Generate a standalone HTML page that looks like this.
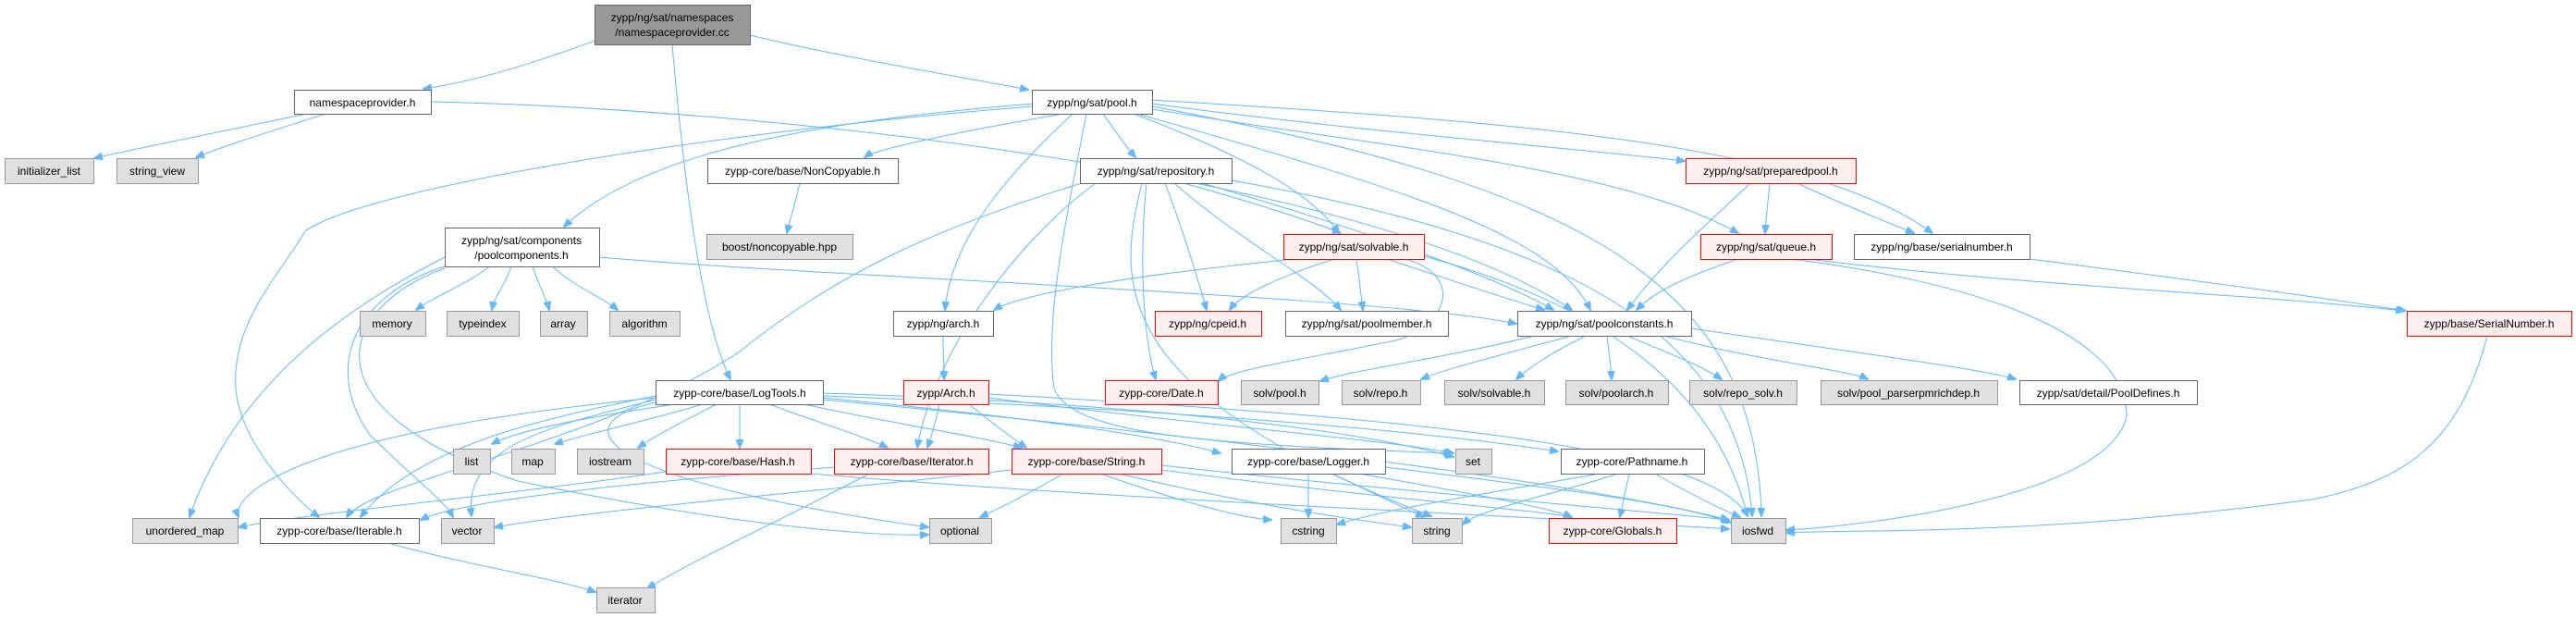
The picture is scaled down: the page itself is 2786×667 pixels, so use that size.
<!DOCTYPE html>
<html><head><meta charset="utf-8"><style>
html,body{margin:0;padding:0;background:#fff;}
svg{display:block;}
text{font-family:"Liberation Sans",Arial,sans-serif;font-size:12px;fill:#000;text-anchor:middle;}
.w{fill:#fff;stroke:#666;stroke-width:1;}
.g{fill:#e0e0e0;stroke:#999;stroke-width:1;}
.r{fill:#fff0f0;stroke:#ff0000;stroke-width:1;}
.t{fill:#999;stroke:#666;stroke-width:1;}
.e path{fill:none;stroke:#63b8ff;stroke-width:1;marker-end:url(#a);}
</style></head><body>
<svg width="2786" height="667" viewBox="0 0 2786 667" xmlns="http://www.w3.org/2000/svg">
<defs><marker id="a" markerWidth="10" markerHeight="8" refX="9" refY="4" orient="auto" markerUnits="userSpaceOnUse"><path d="M0,0 L10,4 L0,8 z" fill="#63b8ff" stroke="#63b8ff"/></marker></defs>
<g class="e">
<!-- cc -->
<path d="M643,44 C560,75 500,90 458,96"/>
<path d="M811,38 C900,60 1050,85 1112,97"/>
<path d="M727,48 C740,200 760,350 790,410"/>
<!-- namespaceprovider -->
<path d="M332,123 C250,140 150,160 102,171"/>
<path d="M352,123 C300,140 250,155 212,170"/>
<path d="M466,110 C900,120 1500,200 1700,335"/>
<!-- pool.h -->
<path d="M1150,123 C1050,140 950,160 935,170"/>
<path d="M1193,123 C1205,140 1215,155 1228,170"/>
<path d="M1118,112 C900,130 700,160 610,245"/>
<path d="M1226,123 C1350,170 1420,210 1448,252"/>
<path d="M1246,112 C1450,140 1700,160 1822,174"/>
<path d="M1246,118 C1500,160 1750,180 1880,252"/>
<path d="M1246,108 C1600,130 1950,150 2090,252"/>
<path d="M1230,123 C1500,200 1680,250 1720,335"/>
<path d="M1160,123 C1100,180 1030,250 1022,335"/>
<path d="M1116,115 C800,140 400,200 330,250 C300,300 250,350 255,420 C260,480 320,540 345,559"/>
<path d="M1175,123 C1150,250 1130,350 1140,420 C1160,470 1300,480 1570,490"/>
<path d="M1246,115 C1700,200 1900,300 1905,558"/>
<!-- repository -->
<path d="M1280,198 C1360,220 1420,240 1450,252"/>
<path d="M1260,198 C1280,250 1295,300 1305,335"/>
<path d="M1240,198 C1230,300 1240,380 1250,410"/>
<path d="M1270,198 C1340,260 1420,300 1450,335"/>
<path d="M1300,198 C1480,250 1620,300 1680,335"/>
<path d="M1185,198 C1100,260 1010,380 992,484"/>
<path d="M1170,198 C1000,250 900,300 800,380 C650,480 400,520 375,559"/>
<path d="M1332,195 C1700,260 1880,360 1895,558"/>
<path d="M1235,198 C1210,300 1190,420 1548,558"/>
<!-- poolcomponents -->
<path d="M530,288 C500,310 470,320 450,335"/>
<path d="M553,288 C545,310 535,320 532,335"/>
<path d="M576,288 C583,310 590,320 594,335"/>
<path d="M598,288 C620,310 650,320 668,335"/>
<path d="M481,278 C400,320 260,400 205,559"/>
<path d="M481,288 C380,320 350,400 400,470 C450,520 480,540 490,559"/>
<path d="M648,278 C900,300 1500,320 1640,350"/>
<path d="M481,290 C370,330 320,440 560,520 C800,570 950,580 1004,578"/>
<!-- noncopyable -->
<path d="M865,198 C860,220 855,235 851,252"/>
<!-- preparedpool -->
<path d="M1914,198 C1912,220 1910,235 1909,252"/>
<path d="M1944,198 C1990,220 2040,240 2070,252"/>
<path d="M1893,198 C1860,230 1800,280 1760,335"/>
<!-- solvable -->
<path d="M1400,280 C1200,300 1100,320 1075,335"/>
<path d="M1443,280 C1380,300 1340,320 1330,335"/>
<path d="M1467,280 C1470,300 1472,320 1474,335"/>
<path d="M1500,280 C1560,300 1620,320 1670,335"/>
<path d="M1540,277 C1700,320 1850,400 1890,558"/>
<path d="M1520,280 C1590,300 1560,360 1500,370 C1400,390 1330,400 1318,412"/>
<!-- queue -->
<path d="M1880,280 C1820,300 1790,315 1770,335"/>
<path d="M1955,280 C2200,310 2400,315 2600,336"/>
<!-- serialnumber -->
<path d="M2195,280 C2350,300 2500,320 2602,336"/>
<path d="M1936,280 C2100,300 2300,350 2300,450 C2280,540 2000,570 1932,573"/>
<!-- SerialNumber -->
<path d="M2690,363 C2660,480 2600,520 2500,540 C2200,580 2000,572 1932,576"/>
<!-- poolconstants -->
<path d="M1660,363 C1550,390 1460,400 1428,412"/>
<path d="M1700,363 C1600,390 1560,400 1537,410"/>
<path d="M1715,363 C1680,380 1650,400 1640,410"/>
<path d="M1738,363 C1740,380 1742,395 1743,410"/>
<path d="M1760,363 C1800,380 1840,395 1862,410"/>
<path d="M1800,363 C1900,390 2000,400 2020,410"/>
<path d="M1829,355 C2000,380 2150,400 2180,410"/>
<!-- arch -->
<path d="M1020,363 C1020,380 1021,395 1021,410"/>
<!-- Arch -->
<path d="M1016,437 C1012,455 1008,470 1003,484"/>
<path d="M1048,437 C1070,455 1090,470 1110,484"/>
<path d="M1069,430 C1300,460 1500,475 1572,490"/>
<path d="M1069,426 C1500,450 1850,480 1890,558"/>
<!-- LogTools -->
<path d="M730,437 C640,450 560,465 532,480"/>
<path d="M760,437 C700,455 630,470 600,480"/>
<path d="M775,437 C740,455 710,470 690,484"/>
<path d="M800,437 L800,484"/>
<path d="M832,437 C880,455 930,470 960,484"/>
<path d="M870,437 C950,455 1050,470 1105,484"/>
<path d="M890,430 C1100,450 1250,470 1320,490"/>
<path d="M890,428 C1200,440 1500,460 1685,488"/>
<path d="M890,425 C1200,435 1450,460 1572,494"/>
<path d="M709,432 C600,460 500,480 510,558"/>
<path d="M709,428 C600,450 450,480 390,559"/>
<path d="M709,435 C600,460 650,520 1004,570"/>
<path d="M890,432 C1300,470 1700,520 1870,562"/>
<path d="M709,430 C300,470 250,540 258,559"/>
<!-- Hash -->
<path d="M720,510 C550,535 330,555 258,570"/>
<path d="M877,512 C1200,540 1700,560 1870,572"/>
<!-- Iterable -->
<path d="M420,587 C500,610 600,625 644,640"/>
<!-- Iterator -->
<path d="M940,512 C850,560 760,600 700,636"/>
<path d="M903,505 C700,520 500,540 455,562"/>
<!-- String -->
<path d="M1094,508 C900,530 650,550 535,570"/>
<path d="M1150,512 C1110,535 1080,550 1060,559"/>
<path d="M1190,512 C1270,540 1340,560 1375,562"/>
<path d="M1210,512 C1350,545 1450,560 1526,570"/>
<path d="M1256,508 C1500,540 1650,550 1700,559"/>
<path d="M1256,503 C1500,530 1700,545 1870,562"/>
<!-- Logger -->
<path d="M1415,512 L1415,559"/>
<path d="M1440,512 C1490,535 1520,550 1540,559"/>
<path d="M1470,512 C1600,535 1680,550 1700,559"/>
<path d="M1498,505 C1700,530 1820,545 1872,565"/>
<!-- Pathname -->
<path d="M1730,512 C1600,535 1500,550 1446,567"/>
<path d="M1750,512 C1680,535 1600,550 1582,567"/>
<path d="M1762,512 C1758,530 1755,545 1752,559"/>
<path d="M1790,512 C1830,535 1860,550 1882,559"/>
</g>
<!-- nodes -->
<rect class="t" x="643.5" y="5.5" width="168" height="43"/><text x="727" y="23">zypp/ng/sat/namespaces</text><text x="727" y="39">/namespaceprovider.cc</text>
<rect class="w" x="318.5" y="97.5" width="148" height="26"/><text x="392" y="115">namespaceprovider.h</text>
<rect class="w" x="1116.5" y="97.5" width="130" height="26"/><text x="1181" y="115">zypp/ng/sat/pool.h</text>
<rect class="g" x="5.5" y="171.5" width="96" height="27"/><text x="53" y="189">initializer_list</text>
<rect class="g" x="126.5" y="171.5" width="88" height="27"/><text x="170" y="189">string_view</text>
<rect class="w" x="765.5" y="171.5" width="206" height="27"/><text x="868" y="189">zypp-core/base/NonCopyable.h</text>
<rect class="w" x="1168.5" y="171.5" width="164" height="27"/><text x="1250" y="189">zypp/ng/sat/repository.h</text>
<rect class="r" x="1823.5" y="171.5" width="184" height="27"/><text x="1915" y="189">zypp/ng/sat/preparedpool.h</text>
<rect class="w" x="481.5" y="246.5" width="167" height="42"/><text x="564" y="264">zypp/ng/sat/components</text><text x="564" y="280">/poolcomponents.h</text>
<rect class="g" x="764.5" y="253.5" width="158" height="27"/><text x="843" y="271">boost/noncopyable.hpp</text>
<rect class="r" x="1388.5" y="253.5" width="152" height="27"/><text x="1464" y="271">zypp/ng/sat/solvable.h</text>
<rect class="r" x="1839.5" y="253.5" width="142" height="27"/><text x="1910" y="271">zypp/ng/sat/queue.h</text>
<rect class="w" x="2005.5" y="253.5" width="190" height="27"/><text x="2100" y="271">zypp/ng/base/serialnumber.h</text>
<rect class="g" x="389.5" y="336.5" width="71" height="27"/><text x="424" y="354">memory</text>
<rect class="g" x="483.5" y="336.5" width="78" height="27"/><text x="522" y="354">typeindex</text>
<rect class="g" x="584.5" y="336.5" width="51" height="27"/><text x="609" y="354">array</text>
<rect class="g" x="659.5" y="336.5" width="76" height="27"/><text x="697" y="354">algorithm</text>
<rect class="w" x="966.5" y="336.5" width="108" height="27"/><text x="1020" y="354">zypp/ng/arch.h</text>
<rect class="r" x="1249.5" y="336.5" width="115" height="27"/><text x="1306" y="354">zypp/ng/cpeid.h</text>
<rect class="w" x="1390.5" y="336.5" width="176" height="27"/><text x="1478" y="354">zypp/ng/sat/poolmember.h</text>
<rect class="w" x="1641.5" y="336.5" width="188" height="27"/><text x="1735" y="354">zypp/ng/sat/poolconstants.h</text>
<rect class="r" x="2603.5" y="336.5" width="178" height="27"/><text x="2692" y="354">zypp/base/SerialNumber.h</text>
<rect class="w" x="709.5" y="411.5" width="181" height="26"/><text x="800" y="429">zypp-core/base/LogTools.h</text>
<rect class="r" x="977.5" y="411.5" width="92" height="26"/><text x="1023" y="429">zypp/Arch.h</text>
<rect class="r" x="1195.5" y="411.5" width="122" height="26"/><text x="1256" y="429">zypp-core/Date.h</text>
<rect class="g" x="1342.5" y="411.5" width="84" height="26"/><text x="1384" y="429">solv/pool.h</text>
<rect class="g" x="1451.5" y="411.5" width="85" height="26"/><text x="1493" y="429">solv/repo.h</text>
<rect class="g" x="1562.5" y="411.5" width="108" height="26"/><text x="1616" y="429">solv/solvable.h</text>
<rect class="g" x="1693.5" y="411.5" width="111" height="26"/><text x="1748" y="429">solv/poolarch.h</text>
<rect class="g" x="1827.5" y="411.5" width="116" height="26"/><text x="1885" y="429">solv/repo_solv.h</text>
<rect class="g" x="1969.5" y="411.5" width="191" height="26"/><text x="2064" y="429">solv/pool_parserpmrichdep.h</text>
<rect class="w" x="2184.5" y="411.5" width="192" height="26"/><text x="2280" y="429">zypp/sat/detail/PoolDefines.h</text>
<rect class="g" x="490.5" y="485.5" width="40" height="27"/><text x="510" y="503">list</text>
<rect class="g" x="553.5" y="485.5" width="47" height="27"/><text x="576" y="503">map</text>
<rect class="g" x="624.5" y="485.5" width="72" height="27"/><text x="660" y="503">iostream</text>
<rect class="r" x="720.5" y="485.5" width="157" height="27"/><text x="798" y="503">zypp-core/base/Hash.h</text>
<rect class="r" x="902.5" y="485.5" width="167" height="27"/><text x="986" y="503">zypp-core/base/Iterator.h</text>
<rect class="r" x="1094.5" y="485.5" width="162" height="27"/><text x="1175" y="503">zypp-core/base/String.h</text>
<rect class="w" x="1332.5" y="485.5" width="166" height="27"/><text x="1415" y="503">zypp-core/base/Logger.h</text>
<rect class="g" x="1574.5" y="485.5" width="39" height="27"/><text x="1593" y="503">set</text>
<rect class="w" x="1688.5" y="485.5" width="155" height="27"/><text x="1765" y="503">zypp-core/Pathname.h</text>
<rect class="g" x="143.5" y="560.5" width="114" height="27"/><text x="200" y="578">unordered_map</text>
<rect class="w" x="281.5" y="560.5" width="172" height="27"/><text x="367" y="578">zypp-core/base/Iterable.h</text>
<rect class="g" x="477.5" y="560.5" width="57" height="27"/><text x="505" y="578">vector</text>
<rect class="g" x="1005.5" y="560.5" width="67" height="27"/><text x="1038" y="578">optional</text>
<rect class="g" x="1385.5" y="560.5" width="60" height="27"/><text x="1415" y="578">cstring</text>
<rect class="g" x="1527.5" y="560.5" width="54" height="27"/><text x="1554" y="578">string</text>
<rect class="r" x="1675.5" y="560.5" width="138" height="27"/><text x="1744" y="578">zypp-core/Globals.h</text>
<rect class="g" x="1872.5" y="560.5" width="59" height="27"/><text x="1901" y="578">iosfwd</text>
<rect class="g" x="645.5" y="635.5" width="63" height="27"/><text x="676" y="653">iterator</text>
</svg>
</body></html>
